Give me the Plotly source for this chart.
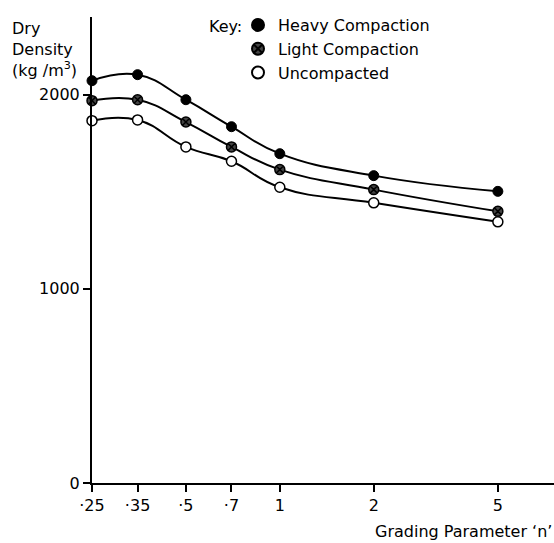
import plotly.graph_objects as go
import numpy as np

# Grading parameter n (log-scaled axis)
n_values = [0.25, 0.35, 0.5, 0.7, 1, 2, 5]
n_tick_labels = ["·25", "·35", "·5", "·7", "1", "2", "5"]

# Dry density (kg/m3) for each compaction level
heavy = [2072, 2103, 1974, 1835, 1696, 1583, 1502]
light = [1969, 1974, 1859, 1731, 1614, 1511, 1399]
uncompacted = [1866, 1870, 1731, 1657, 1523, 1443, 1345]

density_ticks = [0, 1000, 2000]

FONT = "DejaVu Sans"
FS = 16

series = [
    ("Heavy Compaction", heavy,
     dict(symbol="circle", color="black", size=10, line=dict(color="black", width=1))),
    ("Light Compaction", light,
     dict(symbol="circle-x", color="#444444", size=10, line=dict(color="black", width=1.5))),
    ("Uncompacted", uncompacted,
     dict(symbol="circle", color="white", size=10, line=dict(color="black", width=1.5))),
]

fig = go.Figure()
# smooth curves through the measured points
for name, ys, marker in series:
    fig.add_trace(go.Scatter(
        x=n_values, y=ys, mode="lines",
        line=dict(color="black", width=2, shape="spline", smoothing=1.3),
        showlegend=False, hoverinfo="skip", cliponaxis=False,
    ))
# measured points, one legend entry per compaction level
for i, (name, ys, marker) in enumerate(series):
    fig.add_trace(go.Scatter(
        x=n_values, y=ys, name=name, mode="markers",
        marker=marker, legendgroup=f"g{i}", cliponaxis=False,
    ))

fig.update_layout(
    width=554, height=543,
    margin=dict(l=92, r=0, t=17, b=60),
    paper_bgcolor="white", plot_bgcolor="white",
    font=dict(family=FONT, size=FS, color="black"),
    showlegend=True,
    legend=dict(
        x=(238 - 92) / 462, y=1 + 9 / 466, xanchor="left", yanchor="top",
        bgcolor="rgba(0,0,0,0)", tracegroupgap=0,
        itemsizing="constant", itemwidth=30,
        font=dict(size=FS),
    ),
)

fig.update_xaxes(
    type="log",
    range=[np.log10(0.25), np.log10(0.25) + 1.481],
    tickvals=n_values, ticktext=n_tick_labels,
    ticks="outside", ticklen=7, tickwidth=2, tickcolor="black",
    showline=True, linecolor="black", linewidth=2,
    showgrid=False, zeroline=False,
    tickfont=dict(size=FS),
)
fig.update_yaxes(
    range=[0, 2400],
    tickvals=density_ticks, ticktext=[str(v) for v in density_ticks],
    ticks="outside", ticklen=7, tickwidth=2, tickcolor="black",
    showline=True, linecolor="black", linewidth=2,
    showgrid=False, zeroline=False,
    tickfont=dict(size=FS),
)

# Legend heading and axis titles
fig.add_annotation(
    text="Key:", xref="paper", yref="paper",
    x=(244 - 92) / 462, y=1 - (26 - 17) / 466, xanchor="right", yanchor="middle",
    showarrow=False, font=dict(size=FS),
)
fig.add_annotation(
    text="Dry<br>Density<br>(kg /m<sup>3</sup>)", xref="paper", yref="paper",
    x=-82 / 462, y=1, xanchor="left", yanchor="top",
    align="left", showarrow=False, font=dict(size=FS),
)
fig.add_annotation(
    text="Grading Parameter ‘n’", xref="paper", yref="paper",
    x=1.0, y=-60 / 466, xanchor="right", yanchor="bottom",
    showarrow=False, font=dict(size=FS),
)

fig.write_html("out.html")
